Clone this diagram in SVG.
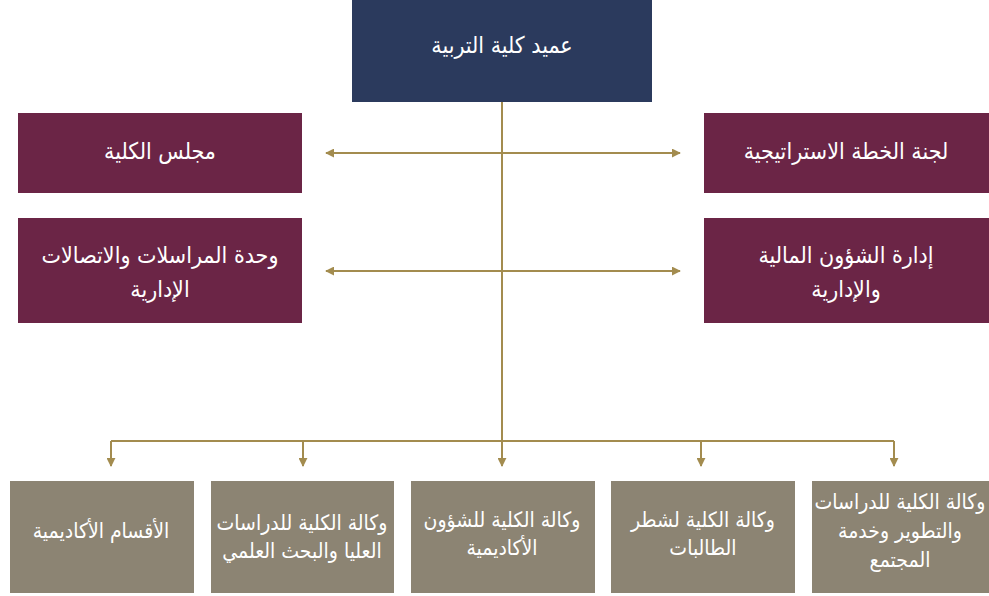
<svg xmlns="http://www.w3.org/2000/svg" width="989" height="596" viewBox="0 0 989 596">
<style>
.navy{fill:#2b3a5d}
.maroon{fill:#6b2546}
.taupe{fill:#8c8473}
.t{font-family:"DejaVu Sans Condensed","DejaVu Sans",sans-serif;fill:#ffffff;text-anchor:middle;dominant-baseline:central;font-size:23px}
.b{font-size:21px}
.ln{stroke:#a38c4f;stroke-width:2;fill:none}
</style>
<defs>
<marker id="ah" viewBox="0 0 10 10" refX="9" refY="5" markerWidth="9" markerHeight="9" markerUnits="userSpaceOnUse" orient="auto-start-reverse">
<path d="M0,0 L10,5 L0,10 z" fill="#a38c4f"/>
</marker>
</defs>
<rect width="989" height="596" fill="#ffffff"/>
<g id="connectors">
<line class="ln" x1="502" y1="101" x2="502" y2="442"/>
<line class="ln" x1="326" y1="153" x2="680" y2="153" marker-start="url(#ah)" marker-end="url(#ah)"/>
<line class="ln" x1="326" y1="271" x2="680" y2="271" marker-start="url(#ah)" marker-end="url(#ah)"/>
<line class="ln" x1="111" y1="441" x2="894" y2="441"/>
<line class="ln" x1="111" y1="441" x2="111" y2="466" marker-end="url(#ah)"/>
<line class="ln" x1="303" y1="441" x2="303" y2="466" marker-end="url(#ah)"/>
<line class="ln" x1="502" y1="441" x2="502" y2="466" marker-end="url(#ah)"/>
<line class="ln" x1="701" y1="441" x2="701" y2="466" marker-end="url(#ah)"/>
<line class="ln" x1="894" y1="441" x2="894" y2="466" marker-end="url(#ah)"/>
</g>
<g id="dean">
<rect class="navy" x="352" y="0" width="300" height="102"/>
<text class="t" x="502" y="45">عميد كلية التربية</text>
</g>
<g id="council">
<rect class="maroon" x="18" y="113" width="284" height="80"/>
<text class="t" x="160" y="151">مجلس الكلية</text>
</g>
<g id="strategic">
<rect class="maroon" x="704" y="113" width="285" height="80"/>
<text class="t" x="846" y="151">لجنة الخطة الاستراتيجية</text>
</g>
<g id="correspondence">
<rect class="maroon" x="18" y="218" width="284" height="105"/>
<text class="t" x="160" y="255">وحدة المراسلات والاتصالات</text>
<text class="t" x="160" y="289">الإدارية</text>
</g>
<g id="finance">
<rect class="maroon" x="704" y="218" width="285" height="105"/>
<text class="t" x="846" y="255">إدارة الشؤون المالية</text>
<text class="t" x="846" y="289">والإدارية</text>
</g>
<g id="departments">
<rect class="taupe" x="10" y="481" width="184" height="112"/>
<text class="t b" x="101" y="531">الأقسام الأكاديمية</text>
</g>
<g id="graduate">
<rect class="taupe" x="211" y="481" width="183" height="112"/>
<text class="t b" x="302" y="523">وكالة الكلية للدراسات</text>
<text class="t b" x="302" y="551">العليا والبحث العلمي</text>
</g>
<g id="academic">
<rect class="taupe" x="411" y="481" width="184" height="112"/>
<text class="t b" x="502" y="520">وكالة الكلية للشؤون</text>
<text class="t b" x="502" y="548">الأكاديمية</text>
</g>
<g id="female">
<rect class="taupe" x="611" y="481" width="184" height="112"/>
<text class="t b" x="703" y="520">وكالة الكلية لشطر</text>
<text class="t b" x="703" y="548">الطالبات</text>
</g>
<g id="development">
<rect class="taupe" x="812" y="481" width="177" height="112"/>
<text class="t b" x="900" y="502">وكالة الكلية للدراسات</text>
<text class="t b" x="900" y="531">والتطوير وخدمة</text>
<text class="t b" x="900" y="560">المجتمع</text>
</g>
</svg>
